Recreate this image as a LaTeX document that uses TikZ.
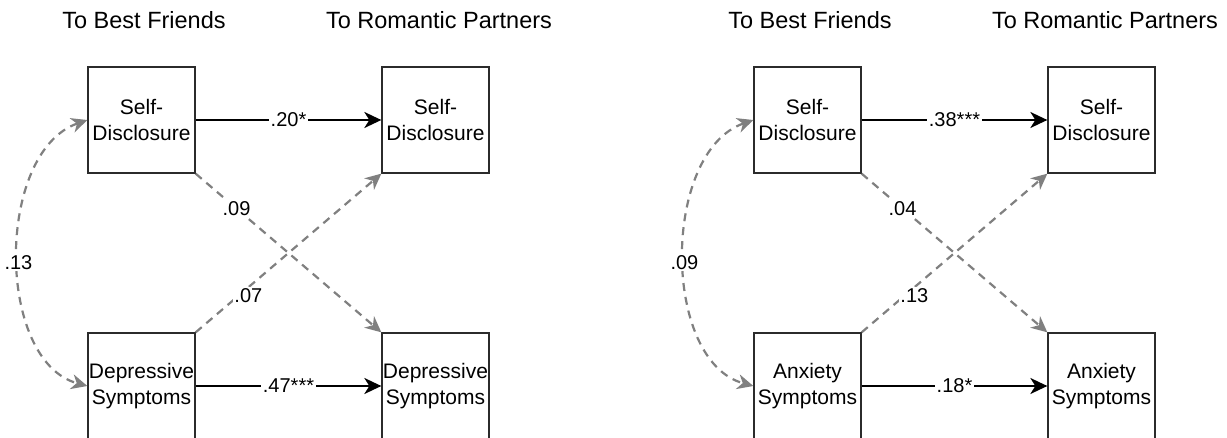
\documentclass[tikz,border=0pt]{standalone}
\usepackage{fontspec}
\setmainfont{Liberation Sans}
\usetikzlibrary{arrows.meta}
\definecolor{edgegray}{HTML}{808080}
\definecolor{boxline}{HTML}{2B2B2B}
\tikzset{
  varbox/.style={draw=boxline, line width=1.3pt, minimum width=107pt, minimum height=106pt,
    inner sep=0pt, align=center, font=\fontsize{21}{26}\selectfont},
  header/.style={anchor=base, inner sep=0pt, font=\fontsize{23.5}{28}\selectfont},
  coef/.style={fill=white, inner sep=1.5pt, font=\fontsize{20}{24}\selectfont},
  pathsolid/.style={draw=black, line width=2.2pt, -{Stealth[length=17pt,width=16pt,inset=5pt]}},
  pathdash/.style={draw=edgegray, line width=2.2pt, dash pattern=on 8pt off 6pt,
    -{Stealth[length=16pt,width=15pt,inset=5pt]}},
  covdash/.style={draw=edgegray, line width=2.2pt, dash pattern=on 8pt off 6pt,
    {Stealth[length=16pt,width=15pt,inset=5pt]}-{Stealth[length=16pt,width=15pt,inset=5pt]}},
}
\begin{document}
\begin{tikzpicture}[x=1pt,y=-1pt]
  \useasboundingbox (0,0) rectangle (1227,438);
  \fill[white] (0,0) rectangle (1227,438);
  \clip (0,0) rectangle (1227,438);

  % ---------- Panel 1: depressive symptoms ----------
  \node[header] (h1a) at (144,29) {To Best Friends};
  \node[header] (h1b) at (439,29) {To Romantic Partners};

  \node[varbox] (sdf1) at (141.5,120) {Self-\\Disclosure};
  \node[varbox] (sdr1) at (435.5,120) {Self-\\Disclosure};
  \node[varbox] (dsf1) at (141.5,386) {Depressive\\Symptoms};
  \node[varbox] (dsr1) at (435.5,386) {Depressive\\Symptoms};

  \draw[pathsolid] (sdf1.east) -- node[coef] {.20*} (sdr1.west);
  \draw[pathsolid] (dsf1.east) -- node[coef] {.47***} (dsr1.west);
  \draw[pathdash] (sdf1.south east) -- node[coef, pos=0.22] {.09} (dsr1.north west);
  \draw[pathdash] (dsf1.north east) -- node[coef, pos=0.23, xshift=10pt] {.07} (sdr1.south west);
  \draw[covdash] (sdf1.west) .. controls +(-92,32) and +(-92,-25) .. node[coef, pos=0.52] {.13} (dsf1.west);

  % ---------- Panel 2: anxiety symptoms ----------
  \node[header] (h2a) at (810,29) {To Best Friends};
  \node[header] (h2b) at (1105,29) {To Romantic Partners};

  \node[varbox] (sdf2) at (807.5,120) {Self-\\Disclosure};
  \node[varbox] (sdr2) at (1101.5,120) {Self-\\Disclosure};
  \node[varbox] (asf2) at (807.5,386) {Anxiety\\Symptoms};
  \node[varbox] (asr2) at (1101.5,386) {Anxiety\\Symptoms};

  \draw[pathsolid] (sdf2.east) -- node[coef] {.38***} (sdr2.west);
  \draw[pathsolid] (asf2.east) -- node[coef] {.18*} (asr2.west);
  \draw[pathdash] (sdf2.south east) -- node[coef, pos=0.22] {.04} (asr2.north west);
  \draw[pathdash] (asf2.north east) -- node[coef, pos=0.23, xshift=10pt] {.13} (sdr2.south west);
  \draw[covdash] (sdf2.west) .. controls +(-92,32) and +(-92,-25) .. node[coef, pos=0.52] {.09} (asf2.west);
\end{tikzpicture}
\end{document}
